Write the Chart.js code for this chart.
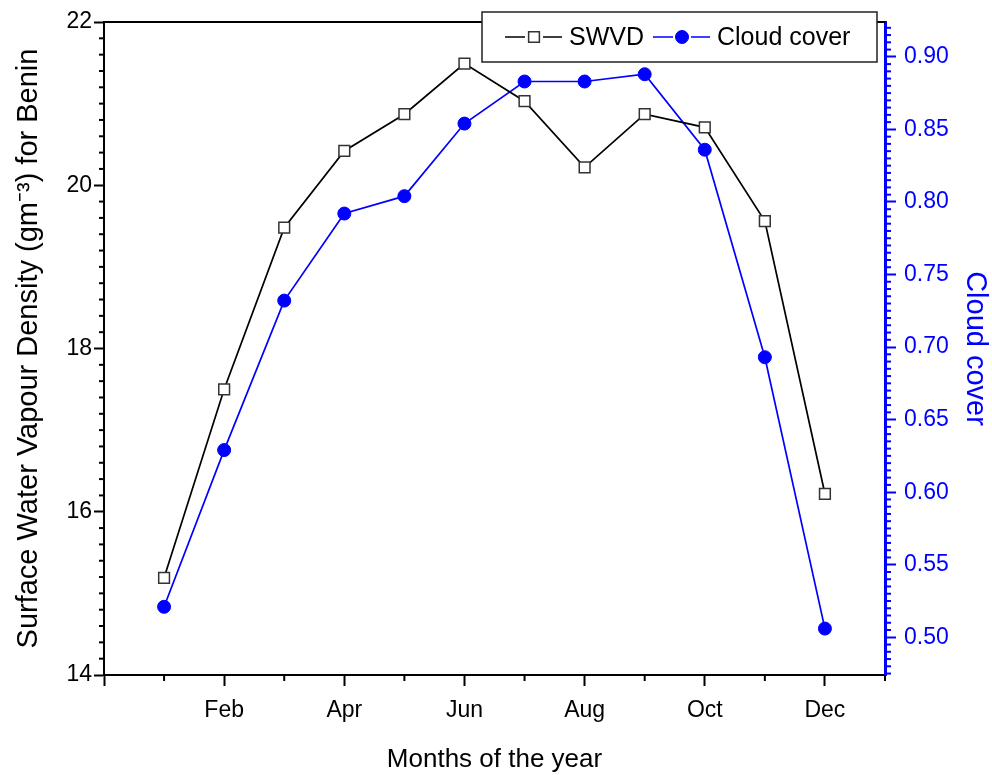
<!DOCTYPE html>
<html>
<head>
<meta charset="utf-8">
<title>SWVD and cloud cover - Benin</title>
<script src="https://cdn.jsdelivr.net/npm/chart.js@4.4.0/dist/chart.umd.min.js"></script>
<style>
  html, body { margin: 0; padding: 0; background: #fff; }
  #wrap { width: 992px; height: 775px; }
</style>
</head>
<body>
<div id="wrap"><canvas id="chart" width="992" height="775"></canvas></div>
<script>
// Monthly values
const monthNames = ['Jan', 'Feb', 'Mar', 'Apr', 'May', 'Jun', 'Jul', 'Aug', 'Sep', 'Oct', 'Nov', 'Dec'];
const monthNumbers = [1, 2, 3, 4, 5, 6, 7, 8, 9, 10, 11, 12];
const swvd = [15.19, 17.50, 19.48, 20.42, 20.87, 21.49, 21.03, 20.22, 20.87, 20.71, 19.56, 16.22];
const cloudCover = [0.521, 0.629, 0.732, 0.792, 0.804, 0.854, 0.883, 0.883, 0.888, 0.836, 0.693, 0.506];

// Tick positions
const xMajorTicks = [0, 2, 4, 6, 8, 10, 12];
const swvdTicks = [14, 16, 18, 20, 22];
const cloudTicks = [0.50, 0.55, 0.60, 0.65, 0.70, 0.75, 0.80, 0.85, 0.90];

const BLUE = '#0000ff';
const FONT = "'Liberation Sans', Arial, sans-serif";

// short minor ticks between the labelled ones
const minorTicks = {
  id: 'minorTicks',
  afterDraw(chart) {
    const { ctx, scales } = chart;
    const x = scales.x, y = scales.y, y1 = scales.y1;
    ctx.save();
    ctx.lineWidth = 2;

    ctx.strokeStyle = '#000';
    for (let m = 1; m <= 13; m += 2) {
      const px = x.getPixelForValue(m);
      ctx.beginPath();
      ctx.moveTo(px, x.top);
      ctx.lineTo(px, x.top + 6);
      ctx.stroke();
    }
    for (let i = 70; i <= 110; i++) {
      if (i % 10 === 0) continue;
      const py = y.getPixelForValue(i / 5);
      ctx.beginPath();
      ctx.moveTo(y.right, py);
      ctx.lineTo(y.right - 5, py);
      ctx.stroke();
    }

    ctx.strokeStyle = BLUE;
    for (let i = Math.ceil(y1.min * 200); i <= Math.floor(y1.max * 200); i++) {
      if (i % 10 === 0) continue;
      const py = y1.getPixelForValue(i / 200);
      ctx.beginPath();
      ctx.moveTo(y1.left, py);
      ctx.lineTo(y1.left + 6, py);
      ctx.stroke();
    }
    ctx.restore();
  }
};

// top edge of the frame
const frameTop = {
  id: 'frameTop',
  beforeDatasetsDraw(chart) {
    const { ctx, chartArea } = chart;
    ctx.save();
    ctx.strokeStyle = '#000';
    ctx.lineWidth = 2;
    ctx.beginPath();
    ctx.moveTo(chartArea.left, chartArea.top);
    ctx.lineTo(chartArea.right, chartArea.top);
    ctx.stroke();
    ctx.restore();
  }
};

// Origin style legend: line - marker - line, then label
const legendBox = {
  id: 'legendBox',
  afterDraw(chart) {
    const ctx = chart.ctx;
    const bx = 482, by = 12, bw = 395, bh = 50;
    const cy = by + bh / 2;
    ctx.save();
    ctx.fillStyle = '#fff';
    ctx.fillRect(bx, by, bw, bh);
    ctx.strokeStyle = '#222';
    ctx.lineWidth = 1.5;
    ctx.strokeRect(bx, by, bw, bh);

    ctx.font = '25px ' + FONT;
    ctx.textBaseline = 'middle';
    let x = bx + 23;
    chart.data.datasets.forEach(ds => {
      ctx.strokeStyle = ds.borderColor;
      ctx.lineWidth = ds.borderWidth;
      ctx.beginPath();
      ctx.moveTo(x, cy); ctx.lineTo(x + 20, cy);
      ctx.moveTo(x + 38, cy); ctx.lineTo(x + 57, cy);
      ctx.stroke();

      ctx.fillStyle = ds.pointBackgroundColor;
      ctx.strokeStyle = ds.pointBorderColor;
      ctx.lineWidth = ds.pointBorderWidth;
      Chart.helpers.drawPoint(ctx, {
        pointStyle: ds.pointStyle,
        radius: ds.pointRadius,
        borderWidth: ds.pointBorderWidth,
        rotation: 0
      }, x + 29, cy);

      ctx.fillStyle = '#000';
      ctx.fillText(ds.label, x + 64, cy + 1);
      x += 64 + ctx.measureText(ds.label).width + 9;
    });
    ctx.restore();
  }
};

new Chart(document.getElementById('chart'), {
  type: 'line',
  data: {
    datasets: [{
      label: 'SWVD',
      data: monthNumbers.map((m, i) => ({ x: m, y: swvd[i] })),
      yAxisID: 'y',
      borderColor: '#000',
      borderWidth: 1.7,
      pointStyle: 'rect',
      pointRadius: 7.6,
      pointBackgroundColor: '#fff',
      pointBorderColor: '#333',
      pointBorderWidth: 1.5,
      tension: 0
    }, {
      label: 'Cloud cover',
      data: monthNumbers.map((m, i) => ({ x: m, y: cloudCover[i] })),
      yAxisID: 'y1',
      borderColor: BLUE,
      borderWidth: 1.7,
      pointStyle: 'circle',
      pointRadius: 6.5,
      pointBackgroundColor: BLUE,
      pointBorderColor: BLUE,
      pointBorderWidth: 1,
      tension: 0
    }]
  },
  options: {
    responsive: false,
    animation: false,
    devicePixelRatio: 1,
    layout: { padding: { top: 22, left: 0, right: 0, bottom: 0 } },
    plugins: {
      legend: { display: false },
      tooltip: { enabled: false }
    },
    scales: {
      x: {
        type: 'linear',
        min: 0,
        max: 13,
        afterBuildTicks: s => { s.ticks = xMajorTicks.map(v => ({ value: v })); },
        afterFit: s => { s.height = 100; },
        border: { color: '#000', width: 2 },
        grid: { drawOnChartArea: false, tickLength: 11, tickWidth: 2, tickColor: '#000' },
        ticks: {
          color: '#000',
          padding: 11,
          maxRotation: 0,
          font: { family: FONT, size: 23 },
          callback: v => (v > 0 ? monthNames[v - 1] : '')
        },
        title: {
          display: true,
          text: 'Months of the year',
          color: '#000',
          padding: { top: 2, bottom: 0 },
          font: { family: FONT, size: 26 }
        }
      },
      y: {
        position: 'left',
        min: 14,
        max: 22,
        afterBuildTicks: s => { s.ticks = swvdTicks.map(v => ({ value: v })); },
        afterFit: s => { s.width = 104; },
        border: { color: '#000', width: 2 },
        grid: { drawOnChartArea: false, tickLength: 10, tickWidth: 2, tickColor: '#000' },
        ticks: {
          color: '#000',
          padding: 2,
          font: { family: FONT, size: 23 }
        },
        title: {
          display: true,
          text: 'Surface Water Vapour Density (gm\u207B\u00B3) for Benin',
          color: '#000',
          padding: { top: 12, bottom: 0 },
          font: { family: FONT, size: 29 }
        }
      },
      y1: {
        position: 'right',
        min: 0.474,
        max: 0.924,
        afterBuildTicks: s => { s.ticks = cloudTicks.map(v => ({ value: v })); },
        afterFit: s => { s.width = 107; },
        border: { color: BLUE, width: 3 },
        grid: { drawOnChartArea: false, tickLength: 11, tickWidth: 2, tickColor: BLUE },
        ticks: {
          color: BLUE,
          padding: 8,
          font: { family: FONT, size: 23 },
          callback: v => Number(v).toFixed(2)
        },
        title: {
          display: true,
          text: 'Cloud cover',
          color: BLUE,
          padding: { top: 0, bottom: 0 },
          font: { family: FONT, size: 29 }
        }
      }
    }
  },
  plugins: [frameTop, minorTicks, legendBox]
});
</script>
</body>
</html>
